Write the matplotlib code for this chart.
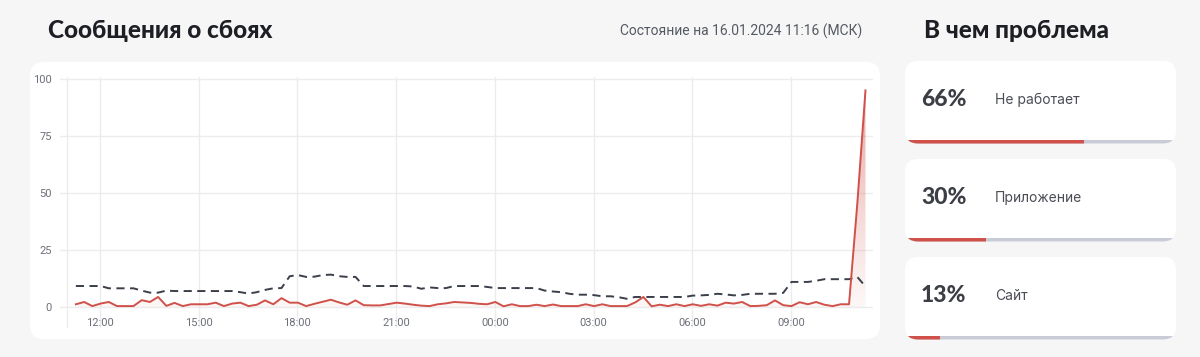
import numpy as np
import matplotlib
matplotlib.use("Agg")
import matplotlib.pyplot as plt
from matplotlib.patches import FancyBboxPatch, Rectangle

# time axis: hours from midnight of 15.01, one point every 15 min, 11:16 -> 11:16
start_h = 11 + 16 / 60
reports = [1.2, 2.2, 0.4, 1.5, 2.2, 0.4, 0.4, 0.4, 3.0, 2.2,
           4.4, 0.5, 1.8, 0.4, 1.2, 1.2, 1.2, 1.9, 0.4, 1.5,
           1.9, 0.4, 1.0, 2.9, 1.2, 3.9, 1.9, 1.9, 0.4, 1.4,
           2.3, 3.2, 2.0, 1.0, 2.9, 0.8, 0.7, 0.7, 1.3, 1.9,
           1.5, 1.0, 0.6, 0.4, 1.2, 1.6, 2.2, 2.0, 1.8, 1.4,
           1.2, 2.2, 0.3, 1.2, 0.4, 0.4, 1.0, 0.4, 1.1, 0.4,
           0.4, 0.4, 1.2, 0.4, 1.2, 0.4, 0.4, 0.4, 2.0, 4.4,
           0.3, 1.0, 0.4, 1.2, 0.4, 1.2, 0.5, 1.2, 0.6, 1.9,
           1.5, 2.2, 0.4, 0.5, 0.8, 2.9, 0.8, 0.4, 2.1, 1.2,
           2.2, 1.0, 0.4, 1.2, 1.2, 45.0, 95.0]
typical = [9.2, 9.2, 9.2, 9.2, 8.2, 8.2, 8.2, 8.2, 7.2, 6.3,
           6.3, 7.2, 7.0, 7.0, 7.0, 7.0, 7.0, 7.0, 7.0, 7.0,
           6.5, 5.9, 6.5, 7.5, 8.2, 8.3, 13.5, 14.0, 13.2, 13.3,
           14.0, 14.2, 13.5, 13.2, 13.2, 9.2, 9.2, 9.2, 9.2, 9.2,
           9.2, 9.0, 8.0, 8.6, 8.3, 8.3, 9.2, 9.2, 9.2, 9.2,
           8.8, 8.3, 8.3, 8.3, 8.3, 8.3, 8.3, 7.2, 6.8, 6.5,
           5.8, 5.4, 5.4, 5.2, 4.7, 4.7, 4.3, 3.6, 4.4, 4.4,
           4.4, 4.4, 4.4, 4.4, 4.4, 5.0, 5.1, 5.3, 5.8, 5.5,
           5.1, 5.3, 5.8, 5.8, 5.8, 5.8, 6.2, 11.0, 11.0, 11.0,
           11.5, 12.2, 12.2, 12.2, 12.2, 13.2, 9.0]
hours = start_h + 0.25 * np.arange(len(reports))

tick_hours = [11, 12, 15, 18, 21, 24, 27, 30, 33]
tick_labels = ["", "12:00", "15:00", "18:00", "21:00", "00:00", "03:00", "06:00", "09:00"]
y_ticks = [0, 25, 50, 75, 100]

problems = ["Не работает", "Приложение", "Сайт"]
shares = [66, 30, 13]

RED = "#d0504a"
DARK = "#3a3f4a"
BG = "#f6f6f6"

W, H = 1200, 357
fig = plt.figure(figsize=(W / 100, H / 100), dpi=100, facecolor=BG)

bg = fig.add_axes([0, 0, 1, 1], zorder=0)
bg.set_xlim(0, W)
bg.set_ylim(H, 0)
bg.axis("off")

# chart card
bg.add_patch(FancyBboxPatch((30, 62), 850, 277, boxstyle="round,pad=0,rounding_size=14",
                            fc="white", ec="none"))

bg.text(48, 31, "Сообщения о сбоях", fontsize=17.5, fontweight="black", family="Lato",
        color="#1e1f24", va="center", ha="left")
bg.text(862, 31, "Состояние на 16.01.2024 11:16 (МСК)", fontsize=10, family="Roboto",
        color="#555a62", va="center", ha="right")
bg.text(924, 31, "В чем проблема", fontsize=17.5, fontweight="black", family="Lato",
        color="#1e1f24", va="center", ha="left")

# problem cards
card_tops = [61, 159, 257]
for top, name, share in zip(card_tops, problems, shares):
    card = FancyBboxPatch((905, top), 271, 82.5, boxstyle="round,pad=0,rounding_size=13",
                          fc="white", ec="none")
    bg.add_patch(card)
    bar_y = top + 79
    gray = Rectangle((905, bar_y), 271, 4, fc="#c9ccd6", ec="none")
    red = Rectangle((905, bar_y), 271 * share / 100, 4, fc=RED, ec="none")
    for r in (gray, red):
        bg.add_patch(r)
        r.set_clip_path(card)
    bg.text(921, top + 39, f"{share}%", fontsize=16.5, fontweight="black", family="Lato",
            color="#3b3e45", va="center", ha="left")
    bg.text(995, top + 39, name, fontsize=10, family="Inter",
            color="#4a4d55", va="center", ha="left")

# line chart
ylo, yhi = -1.0, 101.0
px_per_unit = 2.28
ax_bottom = 307 + (0 - ylo) * px_per_unit
ax_top = 307 - (yhi) * px_per_unit
x_left, x_right = 60, 873
h_per_px = 3 / 98.7
xlo = 12 + (x_left - 100) * h_per_px
xhi = 12 + (x_right - 100) * h_per_px
ax = fig.add_axes([x_left / W, (H - ax_bottom) / H, (x_right - x_left) / W,
                   (ax_bottom - ax_top) / H], zorder=1)
ax.set_facecolor("none")
ax.set_xlim(xlo, xhi)
ax.set_ylim(ylo, yhi)

# gradient fill under red line
grad = np.linspace(0, 1, 256).reshape(-1, 1)
rgba = np.zeros((256, 1, 4))
rgba[..., :3] = matplotlib.colors.to_rgb(RED)
rgba[..., 3] = 0.05 + 0.5 * grad[..., 0:1] ** 1.2
im = ax.imshow(rgba, extent=[xlo, xhi, 0, 100], origin="lower", aspect="auto", zorder=1)
fill = ax.fill_between(hours, 0, reports, color="none", lw=0)
im.set_clip_path(fill.get_paths()[0], transform=ax.transData)
ax.set_xlim(xlo, xhi)
ax.set_ylim(ylo, yhi)

ax.plot(hours, typical, color=DARK, lw=1.4, dashes=(4.2, 2.8), zorder=3)
ax.plot(hours, reports, color=RED, lw=1.4, zorder=4, solid_joinstyle="round")

ax.set_yticks(y_ticks)
ax.set_xticks(tick_hours)
ax.set_xticklabels(tick_labels)
ax.grid(True, color="#ececec", lw=1)
ax.set_axisbelow(True)
for s in ax.spines.values():
    s.set_visible(False)
ax.tick_params(axis="y", length=0, pad=6, labelsize=8, labelcolor="#6b6f78")
ax.tick_params(axis="x", length=13, width=1, color="#ececec", pad=-7,
               labelsize=8, labelcolor="#6b6f78")
for lab in ax.get_xticklabels() + ax.get_yticklabels():
    lab.set_family("Roboto")

fig.savefig("out.png", dpi=100, facecolor=BG)
